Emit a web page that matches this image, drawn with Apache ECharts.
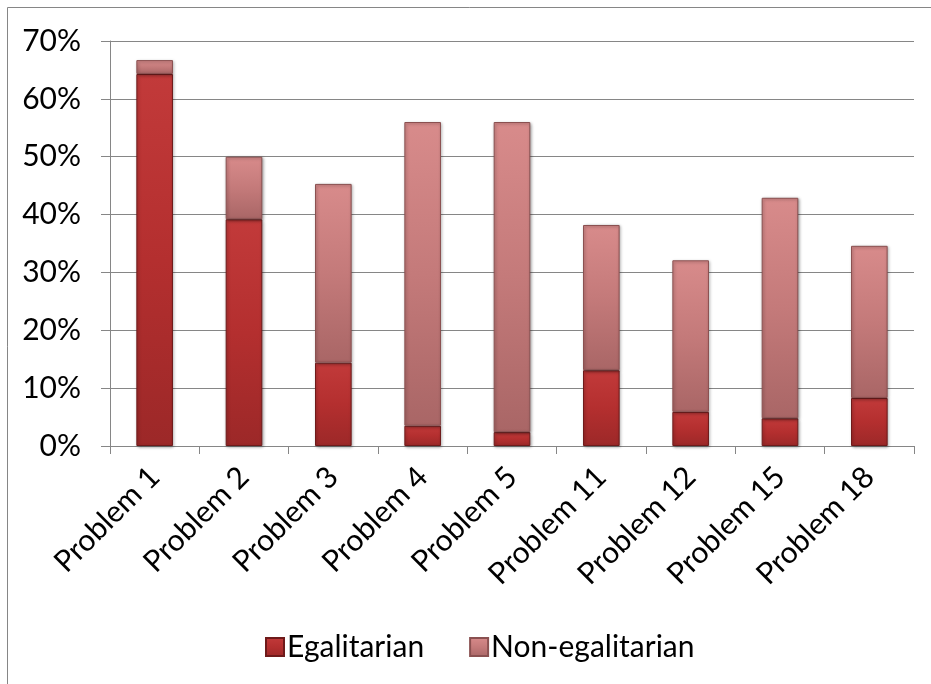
<!DOCTYPE html>
<html>
<head>
<meta charset="utf-8">
<script src="https://cdn.jsdelivr.net/npm/echarts@6/dist/echarts.min.js"></script>
<style>
  html, body { margin: 0; padding: 0; background: #ffffff; }
  #chart { width: 931px; height: 684px; }
</style>
</head>
<body>
<div id="chart"></div>
<script>
// Share of answers per problem, split by type (percent)
const categories = ['Problem 1', 'Problem 2', 'Problem 3', 'Problem 4', 'Problem 5',
                    'Problem 11', 'Problem 12', 'Problem 15', 'Problem 18'];
const egalitarian = [64.3, 39.2, 14.4, 3.5, 2.4, 13.1, 5.9, 4.8, 8.3];
const nonEgalitarian = [2.4, 10.8, 30.9, 52.5, 53.6, 25.1, 26.2, 38.1, 26.3];
const seriesNames = ['Egalitarian', 'Non-egalitarian'];

const FONT = 'Lato, "Liberation Sans", sans-serif';
const GRID_GRAY = '#868686';

function grad(top, mid, bottom) {
  return new echarts.graphic.LinearGradient(0, 0, 0, 1, [
    { offset: 0, color: top },
    { offset: 0.5, color: mid },
    { offset: 1, color: bottom }
  ]);
}

const chart = echarts.init(document.getElementById('chart'), null, { renderer: 'canvas' });

chart.setOption({
  animation: false,
  backgroundColor: '#ffffff',
  graphic: [{
    type: 'rect',
    shape: { x: 7.5, y: 7.5, width: 940, height: 700 },
    style: { fill: 'none', stroke: '#868686', lineWidth: 1 },
    silent: true,
    z: 0
  }],
  grid: { left: 110, right: 17, top: 41, bottom: 238, containLabel: false },
  legend: {
    left: 260,
    top: 627,
    itemWidth: 18,
    itemHeight: 18,
    itemGap: 45,
    icon: 'rect',
    textStyle: { fontFamily: FONT, fontSize: 30, color: '#000000', padding: [0, 0, 0, -2] },
    data: seriesNames
  },
  xAxis: {
    type: 'category',
    data: categories,
    axisLine: { lineStyle: { color: GRID_GRAY, width: 1 } },
    axisTick: { show: true, length: 8, alignWithLabel: false, lineStyle: { color: GRID_GRAY } },
    axisLabel: {
      rotate: 45,
      interval: 0,
      margin: 26,
      fontFamily: FONT,
      fontSize: 30,
      color: '#000000'
    }
  },
  yAxis: {
    type: 'value',
    min: 0,
    max: 70,
    interval: 10,
    axisLine: { show: true, lineStyle: { color: GRID_GRAY, width: 1 } },
    axisTick: { show: true, length: 9, lineStyle: { color: GRID_GRAY } },
    splitLine: { show: true, lineStyle: { color: GRID_GRAY, width: 1 } },
    axisLabel: {
      formatter: v => v + '%',
      margin: 29,
      fontFamily: FONT,
      fontSize: 30,
      color: '#000000'
    }
  },
  series: [
    {
      name: seriesNames[0],
      type: 'bar',
      stack: 'total',
      barWidth: '41%',
      data: egalitarian,
      itemStyle: {
        color: grad('#c23a3a', '#b42f2f', '#9c2828'),
        borderColor: '#6e1a1a',
        borderWidth: 1,
        shadowColor: 'rgba(0,0,0,0.35)',
        shadowBlur: 3,
        shadowOffsetX: 1,
        shadowOffsetY: 1
      }
    },
    {
      name: seriesNames[1],
      type: 'bar',
      stack: 'total',
      barWidth: '41%',
      data: nonEgalitarian,
      itemStyle: {
        color: grad('#d88b8b', '#c47a7a', '#a96666'),
        borderColor: '#8a5050',
        borderWidth: 1,
        shadowColor: 'rgba(0,0,0,0.35)',
        shadowBlur: 3,
        shadowOffsetX: 1,
        shadowOffsetY: 1
      }
    }
  ]
});
</script>
</body>
</html>
